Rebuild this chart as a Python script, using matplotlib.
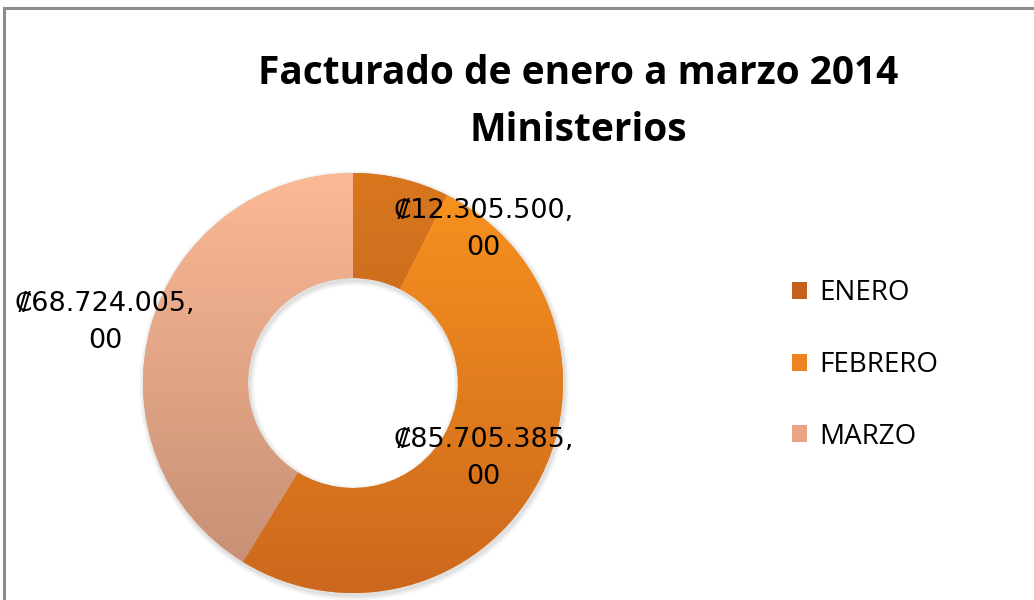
import numpy as np
import matplotlib
matplotlib.use("Agg")
import matplotlib.pyplot as plt
from matplotlib.colors import LinearSegmentedColormap
from matplotlib.patches import Rectangle

categories = ["ENERO", "FEBRERO", "MARZO"]
values = [12305500.00, 85705385.00, 68724005.00]
top_colors = ["#D9771F", "#F9931F", "#FCB995"]
bottom_colors = ["#B3561A", "#CC681D", "#C38D73"]
mid_colors = ["#C4621B", "#EE8420", "#E8A584"]
title_lines = ["Facturado de enero a marzo 2014", "Ministerios"]

def fmt(v):
    s = f"{v:,.2f}"
    ent, dec = s.split(".")
    ent = ent.replace(",", ".")
    return "\u20a1" + ent + ",\n" + dec

fig = plt.figure(figsize=(10.34, 6.0), dpi=100)
fig.patch.set_facecolor("white")

# chart frame
fig.patches.append(Rectangle((4/1034, -0.02), 1.05, 1 - 8/600 + 0.02, transform=fig.transFigure,
                             fill=False, edgecolor="#8c8c8c", linewidth=2.2))

ax = fig.add_axes([143/1034, 7/600, 420/1034, 420/600])
ax.axis("off")

# soft shadow
for k, a in enumerate([0.05, 0.04, 0.03]):
    ax.pie(values, radius=1.0 + 0.008 * (k + 1), startangle=90, counterclock=False,
           wedgeprops=dict(width=0.5 + 0.016 * (k + 1), facecolor="#000000", edgecolor="none", alpha=a),
           center=(0.006, -0.012))

wedges, _ = ax.pie(values, radius=1.0, startangle=90, counterclock=False,
                   colors=mid_colors, wedgeprops=dict(width=0.5, edgecolor="none"))

grad = np.linspace(0, 1, 256).reshape(-1, 1)
for w, tc, bc in zip(wedges, top_colors, bottom_colors):
    cmap = LinearSegmentedColormap.from_list("g", [tc, bc])
    im = ax.imshow(grad, cmap=cmap, extent=[-1, 1, -1, 1], origin="upper", aspect="auto", zorder=3)
    im.set_clip_path(w)

ax.set_xlim(-1, 1)
ax.set_ylim(-1, 1)
ax.set_aspect("equal")

label_pos = [(0.62, 0.73), (0.62, -0.36), (-1.18, 0.29)]
for v, (x, y) in zip(values, label_pos):
    ax.text(x, y, fmt(v), ha="center", va="center", fontsize=19.5, color="#000000",
            family=["DejaVu Sans"], linespacing=1.55, zorder=5, clip_on=False)

for i, line in enumerate(title_lines):
    fig.text(578/1034, 1 - (73 + 58 * i)/600, line, ha="center", va="center",
             fontsize=28, fontweight="bold", family=["Open Sans", "DejaVu Sans"])

leg = fig.legend(wedges, categories, loc="center left", bbox_to_anchor=(778/1034, 1 - 365/600),
                 frameon=False, handlelength=0.55, handleheight=0.55,
                 handletextpad=0.45, labelspacing=1.57, borderpad=0,
                 prop=dict(family=["Open Sans", "DejaVu Sans"], size=20))

fig.savefig("out.png", dpi=100)
